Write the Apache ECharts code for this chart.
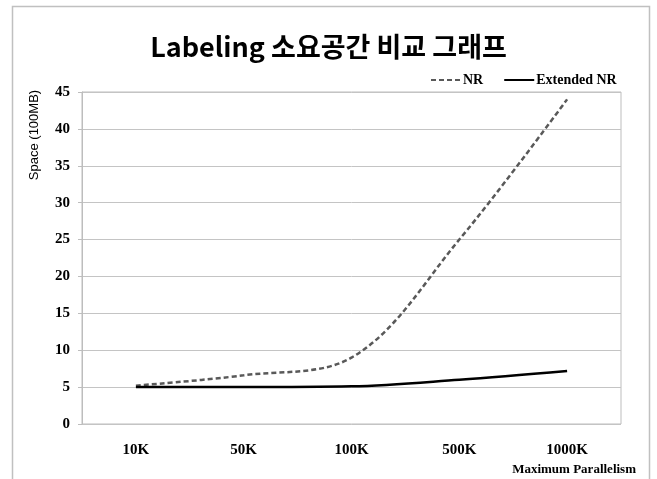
<!DOCTYPE html>
<html>
<head>
<meta charset="utf-8">
<script src="https://cdn.jsdelivr.net/npm/echarts@6/dist/echarts.min.js"></script>
<style>
  html, body { margin: 0; padding: 0; background: #fff; }
  #chart { width: 657px; height: 479px; }
</style>
</head>
<body>
<div id="chart"></div>
<script>
// Maximum parallelism levels on the x axis
const categories = ['10K', '50K', '100K', '500K', '1000K'];
// Labeling space (in units of 100MB)
const nrValues = [5.2, 6.6, 9.0, 25.0, 44.0];
const extendedNrValues = [5.0, 5.0, 5.1, 6.0, 7.2];
const yTicks = [0, 5, 10, 15, 20, 25, 30, 35, 40, 45];

const serif = '"Liberation Serif", "Times New Roman", serif';
const chart = echarts.init(document.getElementById('chart'), null, { renderer: 'canvas' });

chart.setOption({
  animation: false,
  backgroundColor: '#ffffff',
  title: {
    text: 'Labeling 소요공간 비교 그래프',
    left: 'center',
    top: 28,
    textStyle: {
      fontFamily: '"Noto Sans CJK KR", sans-serif',
      fontWeight: 'bold',
      fontSize: 27,
      color: '#000'
    }
  },
  legend: {
    left: 425,
    top: 68,
    itemWidth: 30,
    itemHeight: 14,
    itemGap: 20,
    itemStyle: { opacity: 0 },
    textStyle: { fontFamily: serif, fontWeight: 'bold', fontSize: 14, color: '#000', padding: [0, 0, 0, -3] },
    data: ['NR', 'Extended NR']
  },
  grid: {
    left: 82, right: 36, top: 92, bottom: 55,
    show: true,
    borderColor: '#bdbdbd',
    borderWidth: 1
  },
  xAxis: {
    type: 'category',
    data: categories,
    boundaryGap: true,
    axisLine: { show: false },
    axisTick: { show: false },
    axisLabel: { margin: 19, fontFamily: serif, fontWeight: 'bold', fontSize: 15, color: '#000' }
  },
  yAxis: {
    type: 'value',
    min: yTicks[0],
    max: yTicks[yTicks.length - 1],
    interval: 5,
    axisLine: { show: true, lineStyle: { color: '#bdbdbd' } },
    axisTick: { show: true, length: 4, lineStyle: { color: '#bdbdbd' } },
    splitLine: { lineStyle: { color: '#c4c4c4', width: 1 } },
    axisLabel: { margin: 12, fontFamily: serif, fontWeight: 'bold', fontSize: 15, color: '#000' }
  },
  graphic: [
    {
      type: 'rect',
      shape: { x: 12.5, y: 6.5, width: 637, height: 490 },
      style: { fill: 'none', stroke: '#c0c0c0', lineWidth: 1.5 },
      silent: true
    },
    {
      type: 'text',
      x: 34, y: 135,
      rotation: Math.PI / 2,
      style: {
        text: 'Space (100MB)',
        fontFamily: '"Liberation Sans", Arial, sans-serif',
        fontSize: 13,
        fill: '#000',
        align: 'center',
        verticalAlign: 'middle'
      }
    },
    {
      type: 'text',
      x: 636, y: 470,
      style: {
        text: 'Maximum Parallelism',
        fontFamily: serif,
        fontWeight: 'bold',
        fontSize: 13,
        fill: '#000',
        align: 'right',
        verticalAlign: 'middle'
      }
    }
  ],
  series: [
    {
      name: 'NR',
      type: 'line',
      data: nrValues,
      smooth: 0.35,
      symbol: 'none',
      lineStyle: { color: '#595959', width: 2.5, type: [5, 3] },
      itemStyle: { color: '#595959' }
    },
    {
      name: 'Extended NR',
      type: 'line',
      data: extendedNrValues,
      smooth: 0.35,
      symbol: 'none',
      lineStyle: { color: '#000000', width: 2.5 },
      itemStyle: { color: '#000000' }
    }
  ]
});
</script>
</body>
</html>
